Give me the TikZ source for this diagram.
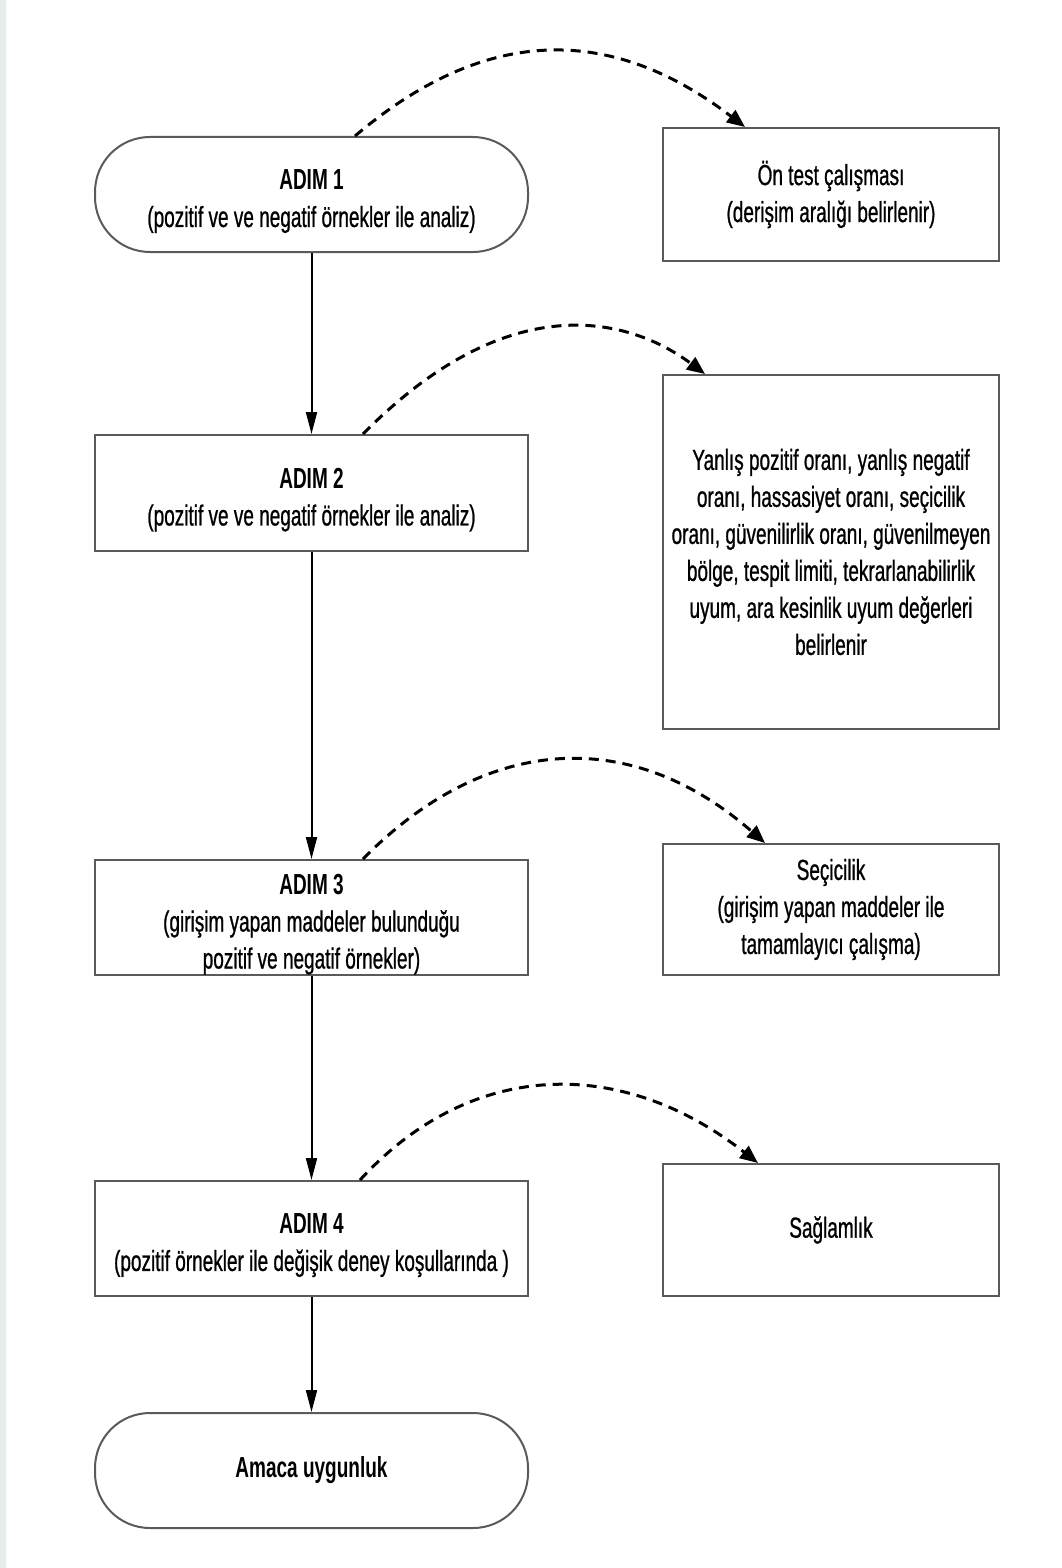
\documentclass[tikz,border=0pt]{standalone}
\usepackage{fontspec}
\setmainfont{Liberation Sans}[FakeStretch=0.655, UprightFeatures={FakeBold=0.8}]
\usetikzlibrary{arrows.meta}
\definecolor{boxline}{HTML}{5A5A5A}
\definecolor{stripgray}{HTML}{E9ECEC}
% taller first line pushes the step texts slightly down in their boxes
\newcommand{\lowerfirst}{\rule{0pt}{34pt}}
\begin{document}
\begin{tikzpicture}[x=1pt,y=-1pt,
  every node/.style={font=\fontsize{29}{37}\selectfont, align=center, inner sep=0pt},
  stepbox/.style={draw=boxline, line width=2pt, minimum width=433pt, minimum height=115pt},
  termbox/.style={stepbox, rounded corners=55pt},
  notebox/.style={draw=boxline, line width=2pt, minimum width=336pt},
  flow/.style={draw=black, line width=2pt, -{Triangle[length=22pt,width=11pt]}},
  side/.style={draw=black, line width=3pt, dash pattern=on 10pt off 7pt,
    -{Triangle[length=18pt,width=15pt]}},
]
\useasboundingbox (0,0) rectangle (1061,1568);
\fill[stripgray] (0,0) rectangle (6,1568);

% main column
\node[termbox] (s1) at (311.5,194.5)
  {\lowerfirst\textbf{ADIM 1}\\(pozitif ve ve negatif örnekler ile analiz)};
\node[stepbox, minimum height=116pt] (s2) at (311.5,493)
  {\lowerfirst\textbf{ADIM 2}\\(pozitif ve ve negatif örnekler ile analiz)};
\node[stepbox] (s3) at (311.5,917.5)
  {\lowerfirst\textbf{ADIM 3}\\(girişim yapan maddeler bulunduğu\\pozitif ve negatif örnekler)};
\node[stepbox] (s4) at (311.5,1238.5)
  {\lowerfirst\textbf{ADIM 4}\\(pozitif örnekler ile değişik deney koşullarında )};
\node[termbox] (s5) at (311.5,1470.5) {\textbf{Amaca uygunluk}};

% side notes
\node[notebox, minimum height=133pt] (n1) at (831,194.5)
  {Ön test çalışması\\(derişim aralığı belirlenir)};
\node[notebox, minimum height=354pt] (n2) at (831,552)
  {Yanlış pozitif oranı, yanlış negatif\\oranı, hassasiyet oranı, seçicilik\\oranı, güvenilirlik oranı, güvenilmeyen\\bölge, tespit limiti, tekrarlanabilirlik\\uyum, ara kesinlik uyum değerleri\\belirlenir};
\node[notebox, minimum height=131pt] (n3) at (831,909.5)
  {Seçicilik\\(girişim yapan maddeler ile\\tamamlayıcı çalışma)};
\node[notebox, minimum height=132pt] (n4) at (831,1230) {Sağlamlık};

% flow arrows
\draw[flow] (s1.south) -- (s2.north);
\draw[flow] (s2.south) -- (s3.north);
\draw[flow] (s3.south) -- (s4.north);
\draw[flow] (s4.south) -- (s5.north);

% dashed links to the side notes
\draw[side] ([xshift=43.5pt]s1.north) .. controls (480,30) and (605,20) .. ([xshift=-86pt]n1.north);
\draw[side] ([xshift=51.5pt]s2.north) .. controls (510,285) and (630,318) .. ([xshift=-126pt]n2.north);
\draw[side] ([xshift=51.5pt]s3.north) .. controls (485,735) and (630,725) .. ([xshift=-66pt]n3.north);
\draw[side] ([xshift=48.5pt]s4.north) .. controls (470,1060) and (620,1055) .. ([xshift=-73pt]n4.north);
\end{tikzpicture}
\end{document}
